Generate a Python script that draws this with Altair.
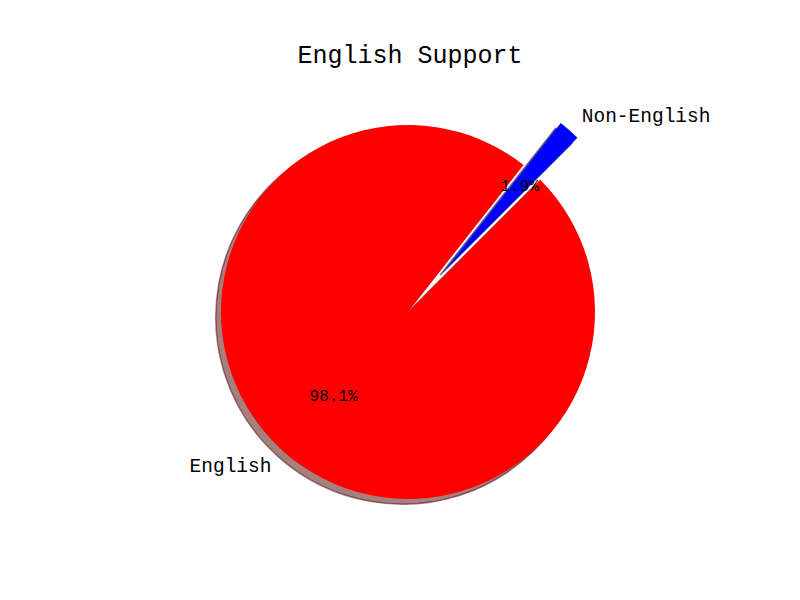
import math
import altair as alt
import pandas as pd

# ---- data ----
labels = ["English", "Non-English"]
values = [98.1, 1.9]
explode = [0.0, 0.3]
title_text = ["English Support"]

# ---- layout constants ----
CX, CY, R = 408, 312, 187
START = math.pi / 4
SH = 5.2  # shadow offset (px)
FONT = "Courier New, Liberation Mono, monospace"

df = pd.DataFrame({"label": labels, "value": values, "explode": explode,
                   "idx": list(range(len(labels)))})

base = (
    alt.Chart(df)
    .transform_window(cum="sum(value)", sort=[alt.SortField("idx")], frame=[None, 0])
    .transform_joinaggregate(total="sum(value)")
    .transform_calculate(f0="(datum.cum - datum.value) / datum.total")
    .transform_calculate(f1="datum.cum / datum.total")
    .transform_calculate(pct="datum.value / datum.total")
    .transform_calculate(mid=f"{START} + PI * (datum.f0 + datum.f1)")
    .transform_calculate(ex=f"{CX} + datum.explode * {R} * sin(datum.mid)")
    .transform_calculate(ey=f"{CY} - datum.explode * {R} * cos(datum.mid)")
    .transform_calculate(sx=f"datum.ex - {SH}")
    .transform_calculate(sy=f"datum.ey + {SH}")
    .transform_calculate(lx=f"{CX} + (1.1 + datum.explode) * {R} * sin(datum.mid)")
    .transform_calculate(ly=f"{CY} - (1.1 + datum.explode) * {R} * cos(datum.mid)")
    .transform_calculate(px=f"{CX} + (0.6 + datum.explode) * {R} * sin(datum.mid)")
    .transform_calculate(py=f"{CY} - (0.6 + datum.explode) * {R} * cos(datum.mid)")
)

theta_scale = alt.Scale(domain=[0, 1], range=[START, START + 2 * math.pi])

shadow = base.mark_arc(radius=R, fillOpacity=0.5, strokeOpacity=0.5, strokeWidth=1.5).encode(
    theta=alt.Theta("f0:Q", scale=theta_scale, stack=False),
    theta2="f1:Q",
    x=alt.X("sx:Q", scale=None, axis=None),
    y=alt.Y("sy:Q", scale=None, axis=None),
    fill=alt.Fill("label:N", scale=alt.Scale(domain=labels, range=["#4d0000", "#00004d"]), legend=None),
    stroke=alt.Stroke("label:N", scale=alt.Scale(domain=labels, range=["#4d0000", "#00004d"]), legend=None),
)

wedges = base.mark_arc(radius=R).encode(
    theta=alt.Theta("f0:Q", scale=theta_scale, stack=False),
    theta2="f1:Q",
    x=alt.X("ex:Q", scale=None, axis=None),
    y=alt.Y("ey:Q", scale=None, axis=None),
    color=alt.Color("label:N", scale=alt.Scale(domain=labels, range=["#ff0000", "#0000ff"]), legend=None),
)

label_left = base.transform_filter("sin(datum.mid) < 0").mark_text(
    align="right", baseline="middle", font=FONT, fontSize=19.5, color="#000000"
).encode(x=alt.X("lx:Q", scale=None), y=alt.Y("ly:Q", scale=None), text="label:N")

label_right = base.transform_filter("sin(datum.mid) >= 0").mark_text(
    align="left", baseline="middle", font=FONT, fontSize=19.5, color="#000000"
).encode(x=alt.X("lx:Q", scale=None), y=alt.Y("ly:Q", scale=None), text="label:N")

pct_text = base.mark_text(
    align="center", baseline="middle", font=FONT, fontSize=16, color="#000000"
).encode(
    x=alt.X("px:Q", scale=None), y=alt.Y("py:Q", scale=None),
    text=alt.Text("pct:Q", format=".1%"),
)

title = alt.Chart(pd.DataFrame({"t": title_text})).mark_text(
    align="center", baseline="alphabetic", font=FONT, fontSize=25, color="#000000"
).encode(x=alt.value(410), y=alt.value(63), text="t:N")

chart = (
    alt.layer(shadow, wedges, label_left, label_right, pct_text, title)
    .properties(width=800, height=600, padding=0, autosize=alt.AutoSizeParams(type="none"),
                background="#ffffff")
    .configure_view(stroke="transparent")
)

chart.save("out.html", embed_options={"renderer": "svg", "actions": False})
